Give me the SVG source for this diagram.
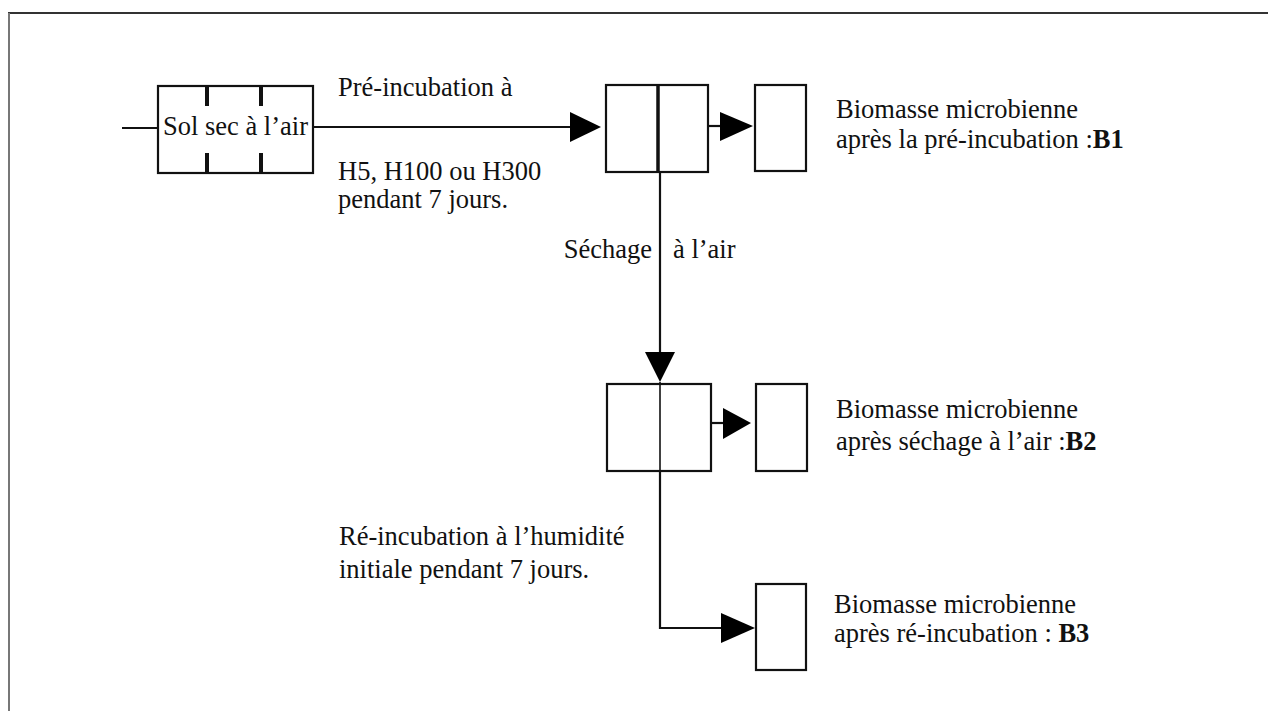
<svg xmlns="http://www.w3.org/2000/svg" width="1271" height="711" viewBox="0 0 1271 711">
<style>
text{font-family:"Liberation Serif","Times New Roman",serif;font-size:26.5px;fill:#111}
.b{font-weight:bold}
.box{fill:#fff;stroke:#111;stroke-width:2.2}
.ln{fill:none;stroke:#111;stroke-width:2.2}
.thin{fill:none;stroke:#111;stroke-width:1.6}
.tick{stroke:#111;stroke-width:4}
.head{fill:#000}
</style>
<rect width="1271" height="711" fill="#fff"/>
<g id="frame">
<line x1="8" y1="13" x2="1268" y2="13" stroke="#333" stroke-width="2"/>
<line x1="9" y1="13" x2="9" y2="711" stroke="#777" stroke-width="2"/>
</g>
<g id="connectors">
<line class="ln" x1="122" y1="128" x2="158" y2="128"/>
<line class="ln" x1="313" y1="127" x2="572" y2="127"/>
<polygon class="head" points="570,112 601,127 570,142"/>
<line class="ln" x1="708" y1="126" x2="722" y2="126"/>
<polygon class="head" points="720,112 753,126 720,141"/>
<line class="ln" x1="660" y1="172" x2="660" y2="354"/>
<polygon class="head" points="645,352 675,352 660,382"/>
<line class="ln" x1="711" y1="423" x2="724" y2="423"/>
<polygon class="head" points="723,408 751,423 723,439"/>
<polyline class="ln" points="660,471 660,628 722,628"/>
<polygon class="head" points="721,613 755,628 721,643"/>
</g>
<g id="node-sol">
<rect class="box" x="158" y="86" width="155" height="87"/>
<line class="tick" x1="207" y1="86" x2="207" y2="106"/>
<line class="tick" x1="261" y1="86" x2="261" y2="106"/>
<line class="tick" x1="207" y1="153" x2="207" y2="173"/>
<line class="tick" x1="261" y1="153" x2="261" y2="173"/>
<rect x="161" y="112" width="149" height="32" fill="#fff"/>
<text x="235.5" y="135" text-anchor="middle">Sol sec à l’air</text>
</g>
<g id="label-preincubation">
<text x="338" y="96">Pré-incubation à</text>
<text x="338" y="180">H5, H100 ou H300</text>
<text x="338" y="208">pendant 7 jours.</text>
</g>
<g id="node-pre">
<rect class="box" x="606" y="85" width="102" height="87"/>
<line x1="658" y1="85" x2="658" y2="172" stroke="#111" stroke-width="3.5"/>
</g>
<g id="node-b1">
<rect class="box" x="755" y="85" width="51" height="86"/>
<text x="836" y="118">Biomasse microbienne</text>
<text x="836" y="148">après la pré-incubation :<tspan class="b">B1</tspan></text>
</g>
<g id="label-sechage">
<text x="652" y="258" text-anchor="end">Séchage</text>
<text x="673" y="258">à l’air</text>
</g>
<g id="node-dry">
<rect class="box" x="607" y="384" width="104" height="87"/>
<line class="thin" x1="660" y1="382" x2="660" y2="471"/>
</g>
<g id="node-b2">
<rect class="box" x="756" y="384" width="51" height="87"/>
<text x="836" y="418">Biomasse microbienne</text>
<text x="836" y="450">après séchage à l’air :<tspan class="b">B2</tspan></text>
</g>
<g id="label-reincubation">
<text x="339" y="545">Ré-incubation à l’humidité</text>
<text x="339" y="578">initiale pendant 7 jours.</text>
</g>
<g id="node-b3">
<rect class="box" x="756" y="584" width="50" height="86"/>
<text x="834" y="613">Biomasse microbienne</text>
<text x="834" y="642">après ré-incubation : <tspan class="b">B3</tspan></text>
</g>
</svg>
